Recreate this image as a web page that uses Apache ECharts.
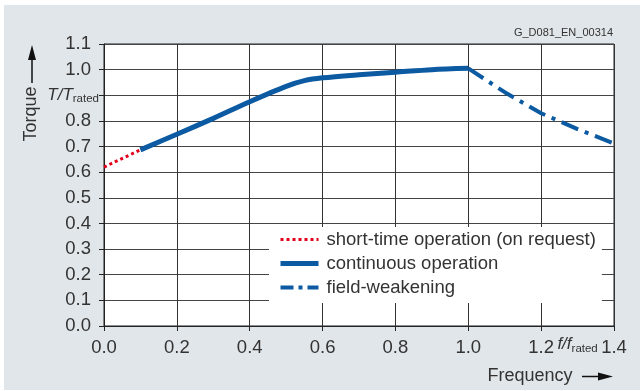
<!DOCTYPE html>
<html>
<head>
<meta charset="utf-8">
<script src="https://cdn.jsdelivr.net/npm/echarts@6/dist/echarts.min.js"></script>
<style>
  html, body { margin: 0; padding: 0; background: #fff; }
  #chart { width: 640px; height: 391px; }
</style>
</head>
<body>
<div id="chart"></div>
<script>
'use strict';
// torque vs frequency curve

var shortTimeX = [0, 0.1];
var shortTimeY = [0.62, 0.687];

var continuousX = [0.1, 0.2, 0.3, 0.4, 0.5, 0.55, 0.6, 0.7, 0.8, 0.9, 1.0];
var continuousY = [0.687, 0.748, 0.81, 0.875, 0.935, 0.957, 0.968, 0.98, 0.99, 1.0, 1.005];

var weakeningX = [1.0, 1.1, 1.2, 1.3, 1.4];
var weakeningY = [1.005, 0.912, 0.83, 0.768, 0.712];

var seriesNames = ['short-time operation (on request)', 'continuous operation', 'field-weakening'];

function pairs(xs, ys) {
    var arr = [];
    for (var i = 0; i < xs.length; i++) {
        arr.push([xs[i], ys[i]]);
    }
    return arr;
}

var FONT = '"Liberation Sans", Arial, sans-serif';
var TXT = '#333';
var BLUE = '#0b5aa2';
var RED = '#e2001a';
var FS = 18.5;

var redStyle = { color: RED, width: 3, type: [3, 3], cap: 'butt' };
var contStyle = { color: BLUE, width: 5 };
var weakStyle = { color: BLUE, width: 4, type: [18, 7, 4, 7], cap: 'butt' };

var subRich = {
    i: { fontSize: 17, color: TXT, fontFamily: FONT, fontStyle: 'italic', lineHeight: 18, verticalAlign: 'top' },
    s: { fontSize: 11.5, color: TXT, fontFamily: FONT, lineHeight: 18, padding: [7, 0, 0, 0] }
};

var chart = echarts.init(document.getElementById('chart'));

var option = {
    backgroundColor: '#fff',
    animation: false,
    textStyle: { fontFamily: FONT },
    grid: {
        left: 104,
        top: 44,
        width: 510,
        height: 282,
        show: true,
        backgroundColor: '#fff',
        borderColor: '#222',
        borderWidth: 1
    },
    legend: {
        data: [
            { name: seriesNames[0], lineStyle: { width: 3, type: [3, 3] } },
            { name: seriesNames[1], lineStyle: { width: 5 } },
            { name: seriesNames[2], lineStyle: { width: 4, type: [13, 5, 4, 5] } }
        ],
        orient: 'vertical',
        left: 269,
        top: 227,
        padding: [3, 6, 6, 9],
        itemGap: 5,
        itemWidth: 38,
        itemHeight: 14,
        backgroundColor: '#fff',
        selectedMode: false,
        itemStyle: { opacity: 0 },
        textStyle: { fontSize: FS, color: TXT, lineHeight: 18, fontFamily: FONT, padding: [0, 0, 0, 3] }
    },
    xAxis: [{
        type: 'value',
        min: 0,
        max: 1.4,
        interval: 0.2,
        axisLine: { lineStyle: { color: '#222', width: 1 } },
        axisTick: { show: true, length: 5, lineStyle: { color: '#222' } },
        splitLine: { lineStyle: { color: '#333', width: 1 } },
        axisLabel: {
            margin: 12,
            fontSize: FS,
            color: TXT,
            fontFamily: FONT,
            formatter: function (v) { return v.toFixed(1); }
        }
    }, {
        // only carries the f/f rated label between 1.2 and 1.4
        type: 'value',
        min: 0,
        max: 1.4,
        interval: 0.1,
        position: 'bottom',
        axisLine: { show: false },
        axisTick: { show: false },
        splitLine: { show: false },
        axisLabel: {
            margin: 10,
            rich: subRich,
            formatter: function (v) {
                return Math.abs(v - 1.3) < 1e-6 ? '{i|f/f}{s|rated}' : '';
            }
        }
    }],
    yAxis: {
        type: 'value',
        min: 0,
        max: 1.1,
        interval: 0.1,
        axisLine: { show: true, lineStyle: { color: '#222', width: 1 } },
        axisTick: { show: true, length: 5, lineStyle: { color: '#222' } },
        splitLine: { lineStyle: { color: '#444', width: 1 } },
        axisLabel: {
            margin: 5,
            rich: {
                n: { fontSize: FS, color: TXT, fontFamily: FONT, padding: [0, 8, 0, 0] },
                i: subRich.i,
                s: subRich.s
            },
            formatter: function (v) {
                if (Math.abs(v - 0.9) < 1e-6) return '{i|T/T}{s|rated}';
                return '{n|' + v.toFixed(1) + '}';
            }
        }
    },
    graphic: [
        { type: 'rect', z: -10, silent: true, shape: { x: 4, y: 5, width: 636, height: 385 }, style: { fill: '#e1e6ea' } },
        { type: 'text', x: 613, y: 33, style: { text: 'G_D081_EN_00314', font: '11px ' + FONT, fill: TXT, align: 'right', verticalAlign: 'middle' } },
        { type: 'text', x: 31, y: 114, rotation: Math.PI / 2, style: { text: 'Torque', font: '18px ' + FONT, fill: TXT, align: 'center', verticalAlign: 'middle' } },
        { type: 'line', shape: { x1: 32, y1: 83, x2: 32, y2: 56 }, style: { stroke: '#111', lineWidth: 1.5 } },
        { type: 'polygon', shape: { points: [[32, 45], [28, 60], [36, 60]] }, style: { fill: '#111' } },
        { type: 'text', x: 530, y: 376, style: { text: 'Frequency', font: '18px ' + FONT, fill: TXT, align: 'center', verticalAlign: 'middle' } },
        { type: 'line', shape: { x1: 582, y1: 376.5, x2: 602, y2: 376.5 }, style: { stroke: '#111', lineWidth: 1.5 } },
        { type: 'polygon', shape: { points: [[613, 376.5], [598, 372.5], [598, 380.5]] }, style: { fill: '#111' } }
    ],
    series: [{
        name: seriesNames[0],
        type: 'line',
        symbol: 'none',
        color: RED,
        lineStyle: redStyle,
        data: pairs(shortTimeX, shortTimeY)
    }, {
        name: seriesNames[1],
        type: 'line',
        symbol: 'none',
        smooth: 0.3,
        color: BLUE,
        lineStyle: contStyle,
        data: pairs(continuousX, continuousY)
    }, {
        name: seriesNames[2],
        type: 'line',
        symbol: 'none',
        color: BLUE,
        lineStyle: weakStyle,
        data: pairs(weakeningX, weakeningY)
    }]
};

chart.setOption(option);
</script>
</body>
</html>
